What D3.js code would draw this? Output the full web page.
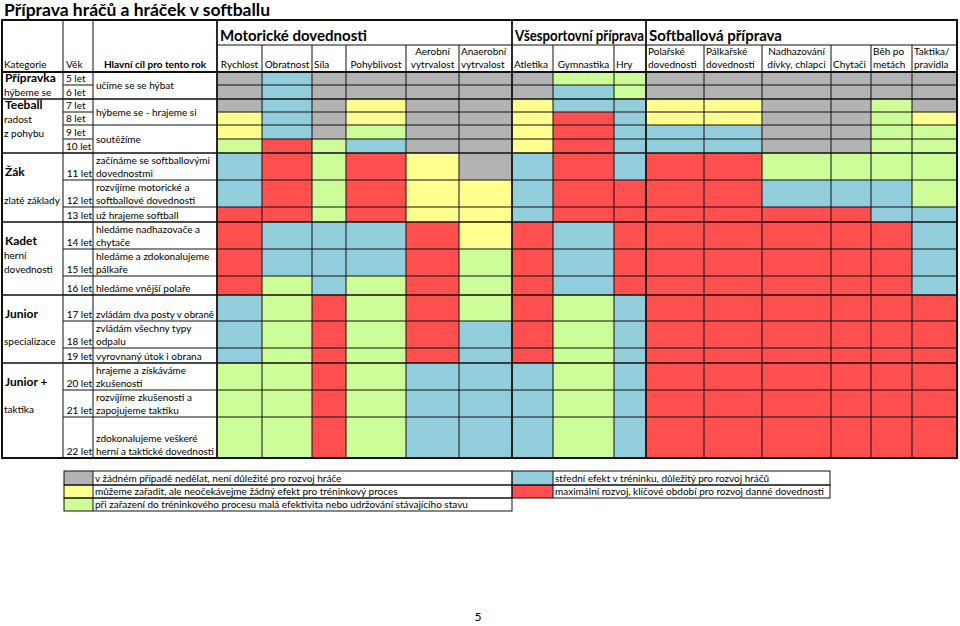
<!DOCTYPE html>
<html><head><meta charset="utf-8">
<script src="https://cdn.jsdelivr.net/npm/d3@7"></script>
<style>
body{margin:0;background:#fff;}
svg text{font-family:Lato,"Open Sans",sans-serif;fill:#000;}
</style></head>
<body><svg id="c" width="960" height="626"></svg>
<script>
// ---------------- DATA ----------------
const title = "Příprava hráčů a hráček v softballu";
const columns = ["Rychlost","Obratnost","Síla","Pohyblivost","Aerobní vytrvalost","Anaerobní vytrvalost",
  "Atletika","Gymnastika","Hry","Polařské dovednosti","Pálkařské dovednosti","Nadhazování dívky, chlapci",
  "Chytači","Běh po metách","Taktika/ pravidla"];
const columnLabelLines = [["Rychlost"],["Obratnost"],["Síla"],["Pohyblivost"],["Aerobní","vytrvalost"],
  ["Anaerobní","vytrvalost"],["Atletika"],["Gymnastika"],["Hry"],["Polařské","dovednosti"],
  ["Pálkařské","dovednosti"],["Nadhazování","dívky, chlapci"],["Chytači"],["Běh po","metách"],["Taktika/","pravidla"]];
const groups = [
  {name:"Motorické dovednosti", first:"Rychlost", last:"Anaerobní vytrvalost"},
  {name:"Všesportovní příprava", first:"Atletika", last:"Hry"},
  {name:"Softballová příprava", first:"Polařské dovednosti", last:"Taktika/ pravidla"}];
const ages = ["5 let","6 let","7 let","8 let","9 let","10 let","11 let","12 let","13 let","14 let","15 let",
  "16 let","17 let","18 let","19 let","20 let","21 let","22 let"];
// levels: G = nedělat, Y = bez efektu, L = malá efektivita, B = střední efekt, R = maximální rozvoj
const levels = [
  "GBGGGGGLLGGGGGG",
  "GBGGGGGBLGGGGGG",
  "GBGYGGYBBYYGGLG",
  "YBGYGGYRBYYGGLY",
  "YBGLGGYRBBBGGLL",
  "LRLBGGYRBBBGGLL",
  "BRLRYGBRBRRLLLL",
  "BRLRYYBRRRRBBBL",
  "RRLRYYBRRRRRRBB",
  "RBBBRYRBRRRRRRB",
  "RBBBRLRBRRRRRRB",
  "RLBLRLRBRRRRRRB",
  "BLRLRLRLBRRRRRR",
  "BLRLRBRLBRRRRRR",
  "BLRLRBRLBRRRRRR",
  "LLRLBBBLBRRRRRR",
  "LLRLBBBLBRRRRRR",
  "LLRLBBBLBRRRRRR"];
const goals = [
  {from:"5 let", to:"6 let", lines:["učíme se se hýbat"]},
  {from:"7 let", to:"8 let", lines:["hýbeme se - hrajeme si"]},
  {from:"9 let", to:"10 let", lines:["soutěžíme"]},
  {from:"11 let", to:"11 let", lines:["začínáme se softballovými","dovednostmi"]},
  {from:"12 let", to:"12 let", lines:["rozvíjíme motorické a","softballové dovednosti"]},
  {from:"13 let", to:"13 let", lines:["už hrajeme softball"]},
  {from:"14 let", to:"14 let", lines:["hledáme nadhazovače a","chytače"]},
  {from:"15 let", to:"15 let", lines:["hledáme a zdokonalujeme","pálkaře"]},
  {from:"16 let", to:"16 let", lines:["hledáme vnější polaře"]},
  {from:"17 let", to:"17 let", lines:["zvládám dva posty v obraně"]},
  {from:"18 let", to:"18 let", lines:["zvládám všechny typy","odpalu"]},
  {from:"19 let", to:"19 let", lines:["vyrovnaný útok i obrana"]},
  {from:"20 let", to:"20 let", lines:["hrajeme a získáváme","zkušenosti"]},
  {from:"21 let", to:"21 let", lines:["rozvíjíme zkušenosti a","zapojujeme taktiku"]},
  {from:"22 let", to:"22 let", lines:["zdokonalujeme veškeré","herní a taktické dovednosti"]}];
const categories = [
  {from:"5 let", to:"6 let", title:"Přípravka", sub:["hýbeme se"]},
  {from:"7 let", to:"10 let", title:"Teeball", sub:["radost","z pohybu"]},
  {from:"11 let", to:"13 let", title:"Žák", sub:["zlaté základy"]},
  {from:"14 let", to:"16 let", title:"Kadet", sub:["herní","dovednosti"]},
  {from:"17 let", to:"19 let", title:"Junior", sub:["specializace"]},
  {from:"20 let", to:"22 let", title:"Junior +", sub:["taktika"]}];
const legendCodes = ["G","Y","L","B","R"];
const legendTexts = [
  "v žádném případě nedělat, není důležité pro rozvoj hráče",
  "můžeme zařadit, ale neočekávejme žádný efekt pro tréninkový proces",
  "při zařazení do tréninkového procesu malá efektivita nebo udržování stávajícího stavu",
  "střední efekt v tréninku, důležitý pro rozvoj hráčů",
  "maximální rozvoj, klíčové období pro rozvoj danné dovednosti"];
const pageNumber = "5";

// ---------------- LAYOUT / STYLE ----------------
const colEdges = [217,262,312,346,406,459,512,553,614,646,704,762,831,871,912,957];
const rowEdges = [72,85,99,112,125,139,153,180,207,222,249,276,295,321,348,363,390,417,458];
const centeredHeaders = new Set(["Rychlost","Obratnost","Pohyblivost","Aerobní vytrvalost","Gymnastika","Nadhazování dívky, chlapci"]);
// category text line baselines: [title, sub...]
const catLineY = [[82,96],[109,123,137],[176,204],[245,259,273],[318,345],[386,413]];
const palette = {G:"#b3b3b3", Y:"#ffff8f", L:"#ccfd98", B:"#92cddc", R:"#ff4f4f"};
const tableTop = 20, headSplit = 45, headBottom = 72, tableBottom = 458;
const xCat = 2, xAge = 63, xGoal = 93, xData = 217, xRight = 957;
const FS = 10;

// ---------------- SCALES ----------------
const x = d3.scaleOrdinal().domain(columns).range(colEdges.slice(0,-1));
const xEnd = d3.scaleOrdinal().domain(columns).range(colEdges.slice(1));
const y = d3.scaleOrdinal().domain(ages).range(rowEdges.slice(0,-1));
const yEnd = d3.scaleOrdinal().domain(ages).range(rowEdges.slice(1));
const color = d3.scaleOrdinal().domain(Object.keys(palette)).range(Object.values(palette));

const svg = d3.select("#c");
function fit(sel, maxW){
  sel.each(function(d){ const m = typeof maxW==="function"?maxW(d):maxW; const w=this.getComputedTextLength(); if(w>m){ d3.select(this).attr("textLength",m).attr("lengthAdjust","spacingAndGlyphs"); } });
}

// title
svg.append("text").attr("x",4).attr("y",16).attr("font-size",17.5).attr("font-weight","bold").text(title);

// cells
const cells = [];
ages.forEach((a,i)=>columns.forEach((c,j)=>cells.push({age:a,col:c,code:levels[i][j]})));
svg.append("g").selectAll("rect").data(cells).join("rect")
  .attr("x",d=>x(d.col)).attr("y",d=>y(d.age))
  .attr("width",d=>xEnd(d.col)-x(d.col)).attr("height",d=>yEnd(d.age)-y(d.age))
  .attr("fill",d=>color(d.code));

const lines = svg.append("g").attr("stroke","#111").attr("fill","none");
function hl(x1,x2,yy,w){lines.append("line").attr("x1",x1).attr("x2",x2).attr("y1",yy).attr("y2",yy).attr("stroke-width",w||1);}
function vl(xx,y1,y2,w){lines.append("line").attr("x1",xx).attr("x2",xx).attr("y1",y1).attr("y2",y2).attr("stroke-width",w||1);}

// data grid lines
const groupStarts = new Set(groups.map(g=>x(g.first)));
const catStarts = new Set(categories.map(c=>y(c.from)));
ages.forEach(a=>{ hl(xData,xRight,y(a), catStarts.has(y(a))?1.6:1); });
columns.forEach(c=>{ if(!groupStarts.has(x(c))) vl(x(c),headSplit,tableBottom,1); });
groups.forEach(g=>vl(x(g.first),tableTop,tableBottom,1.8));
hl(xData,xRight,headSplit,1);
hl(xCat,xRight,headBottom,1.8);

// age column lines
ages.forEach(a=>hl(xAge,xGoal,y(a),catStarts.has(y(a))?1.6:1));
// goal column lines
goals.forEach(g=>hl(xGoal,xData,y(g.from),catStarts.has(y(g.from))?1.6:1));
// category lines
categories.forEach(c=>hl(xCat,xAge,y(c.from),1.6));
vl(xAge,tableTop,tableBottom,1); vl(xGoal,tableTop,tableBottom,1);
// outer border
lines.append("rect").attr("x",xCat).attr("y",tableTop).attr("width",xRight-xCat).attr("height",tableBottom-tableTop).attr("stroke-width",2);

// group headers
svg.append("g").selectAll("text").data(groups).join("text")
  .attr("x",d=>x(d.first)+3).attr("y",41).attr("font-size",15).attr("font-weight","bold").text(d=>d.name)
  .call(fit, d=>Math.min(160, xEnd(d.last)-x(d.first)-5));

// column headers
const hdr = svg.append("g").attr("font-size",FS);
columns.forEach((c,j)=>{
  const L = columnLabelLines[j];
  const cen = centeredHeaders.has(c);
  L.forEach((t,k)=>{
    const yy = L.length===1 ? 68 : (k===0?55:68);
    hdr.append("text").attr("x",cen?(x(c)+xEnd(c))/2:x(c)+2).attr("y",yy)
      .attr("text-anchor",cen?"middle":"start").text(t).call(fit, xEnd(c)-x(c)-3);
  });
});
hdr.append("text").attr("x",xCat+2).attr("y",68).text("Kategorie");
hdr.append("text").attr("x",xAge+3).attr("y",68).text("Věk");
hdr.append("text").attr("x",(xGoal+xData)/2).attr("y",68).attr("text-anchor","middle").attr("font-weight","bold").text("Hlavní cíl pro tento rok");

// ages
const ageG = svg.append("g").attr("font-size",FS);
ages.forEach((a,i)=>{
  const small = i<6;
  ageG.append("text").attr("x",small?xAge+3:xGoal-1).attr("y",yEnd(a)-3)
    .attr("text-anchor",small?"start":"end").text(a);
});
// goals
const goalG = svg.append("g").attr("font-size",FS);
goals.forEach(g=>{
  const top=y(g.from), bot=yEnd(g.to);
  if(g.from!==g.to){
    goalG.append("text").attr("x",xGoal+3).attr("y",(top+bot)/2+3.5).text(g.lines[0]);
  } else {
    g.lines.forEach((t,k)=>goalG.append("text").attr("x",xGoal+3)
      .attr("y",bot-3-(g.lines.length-1-k)*13.5).text(t).call(fit, xData-xGoal-6));
  }
});
// categories
const catG = svg.append("g");
categories.forEach((c,i)=>{
  const ys = catLineY[i];
  catG.append("text").attr("x",xCat+3).attr("y",ys[0]).attr("font-size",12).attr("font-weight","bold").text(c.title);
  c.sub.forEach((s,k)=>catG.append("text").attr("x",xCat+2).attr("y",ys[k+1]).attr("font-size",FS).text(s));
});

// legend
const legRows = [471,485,498,511];
const legItems = legendCodes.map((code,i)=> i<3
  ? {code, text:legendTexts[i], sx:64, tx:93, ex:512, r:i}
  : {code, text:legendTexts[i], sx:512, tx:553, ex:830, r:i-3});
const lg = svg.append("g");
lg.selectAll("rect").data(legItems).join("rect")
  .attr("x",d=>d.sx).attr("y",d=>legRows[d.r]).attr("width",d=>d.tx-d.sx).attr("height",d=>legRows[d.r+1]-legRows[d.r])
  .attr("fill",d=>color(d.code));
lg.selectAll("text").data(legItems).join("text")
  .attr("x",d=>d.tx+2).attr("y",d=>legRows[d.r+1]-3).attr("font-size",FS).text(d=>d.text);
legItems.forEach(d=>{
  lines.append("rect").attr("x",d.sx).attr("y",legRows[d.r]).attr("width",d.ex-d.sx).attr("height",legRows[d.r+1]-legRows[d.r]).attr("stroke-width",1);
  vl(d.tx,legRows[d.r],legRows[d.r+1],1);
});
lines.raise();

svg.append("text").attr("x",478).attr("y",621).attr("font-size",12).attr("text-anchor","middle").text(pageNumber);
</script></body></html>
